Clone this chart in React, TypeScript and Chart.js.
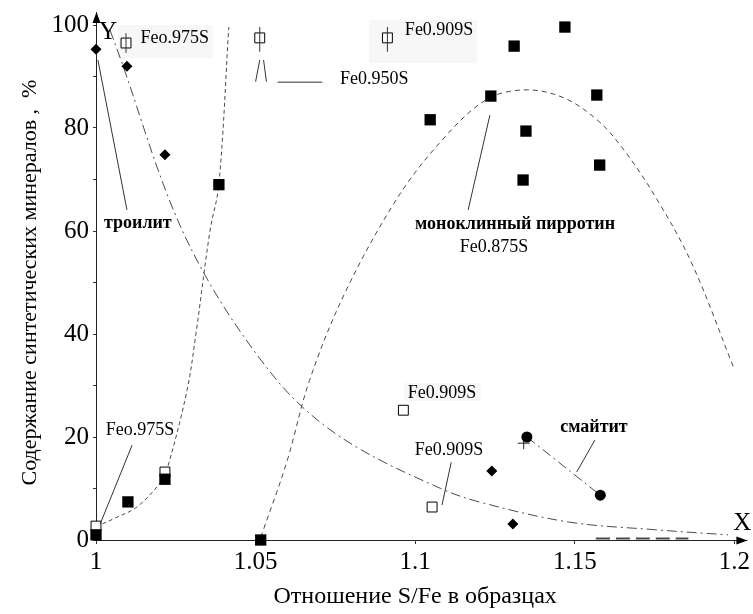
import React, { useEffect, useRef } from 'react';
import { Chart, registerables } from 'chart.js';

Chart.register(...registerables);

// ---- tick labels ----
const yLabelEvery = 20;

// ---- marker series (S/Fe ratio, content %) ----
const pyrrhotiteX = [1.0, 1.01, 1.0216, 1.0385, 1.0516, 1.1047, 1.1237, 1.131, 1.1469, 1.1347, 1.1338, 1.1569, 1.1578];
const pyrrhotiteY = [1, 7.4, 11.8, 69, 0, 81.6, 86.2, 95.9, 99.6, 79.4, 69.9, 86.4, 72.8];

const openX = [1.0, 1.0216, 1.0094, 1.0513, 1.0913, 1.0963, 1.1053];
const openY = [2.7, 13.2, 96.5, 97.5, 97.5, 25.2, 6.4];

const troiliteX = [1.0, 1.0097, 1.0216, 1.124, 1.1306];
const troiliteY = [95.3, 92, 74.8, 13.4, 3.1];

const smythiteX = [1.135, 1.158];
const smythiteY = [20, 8.7];

const crossX = [1.134];
const crossY = [18.8];

// ---- fitted curves ----
const decayX = [1.0044, 1.0085, 1.023, 1.035, 1.051, 1.0647, 1.082, 1.108, 1.12, 1.148, 1.175, 1.198];
const decayY = [99, 92, 66, 50.5, 35.5, 25.8, 17.9, 10, 7.4, 3.5, 2.0, 1.0];

const steepX = [1.0, 1.0065, 1.0128, 1.02, 1.0222, 1.0285, 1.0313, 1.0357, 1.0385, 1.0416];
const steepY = [2.6, 4.4, 6.4, 11, 13.6, 29, 40, 60, 69, 99.6];

const archX = [1.0516, 1.0597, 1.0669, 1.078, 1.094, 1.1075, 1.122, 1.134, 1.146, 1.1566, 1.1647, 1.1753, 1.1866, 1.1997];
const archY = [0.5, 15, 31, 48, 66, 77, 85.4, 87.4, 86, 81.8, 76.3, 66.6, 53.8, 33.6];

const smyLineX = [1.135, 1.158];
const smyLineY = [20, 8.7];

const baseDashX = [1.1566, 1.1856];
const baseDashY = [0.3, 0.3];

// ---- annotations (text, data-space anchor) ----
const noteTexts = ['Feo.975S', 'Fe0.950S', 'Fe0.909S', 'троилит', 'моноклинный пирротин', 'Fe0.875S', 'Fe0.909S', 'Fe0.909S', 'смайтит', 'Feo.975S', 'X', 'Y'];
const noteX = [1.0247, 1.0872, 1.1075, 1.0131, 1.1313, 1.1247, 1.1084, 1.1106, 1.156, 1.0138, 1.2025, 1.0038];
const noteY = [97.5, 89.5, 99, 61.5, 61.2, 56.9, 28.5, 17.5, 21.9, 21.4, 3.2, 98.6];
const noteBold = [false, false, false, true, true, false, false, false, true, false, false, false];
const noteSize = [18, 18, 18, 18, 18, 18, 18, 18, 18, 18, 25, 25];

// leader lines: x1, y1, x2, y2
const leaderX1 = [1.0006, 1.0569, 1.1234, 1.1113, 1.1563, 1.0113, 1.0094, 1.0513, 1.0913, 1.0513, 1.0525];
const leaderY1 = [93.2, 88.9, 82.5, 15.1, 19.4, 18.4, 98.4, 99.6, 99.6, 93.2, 93.2];
const leaderX2 = [1.0097, 1.0709, 1.1166, 1.1084, 1.1506, 1.0013, 1.0094, 1.0513, 1.0913, 1.05, 1.0534];
const leaderY2 = [64.1, 88.9, 64.1, 6.8, 13.2, 3.1, 94.6, 94.8, 94.8, 89, 89];

// light label backgrounds: x1, y1, x2, y2
const boxX1 = [1.0069, 1.0856, 1.0965];
const boxY1 = [100, 101, 30.5];
const boxX2 = [1.0366, 1.1194, 1.1206];
const boxY2 = [93.6, 92.6, 27];

const zip = (xs: number[], ys: number[]) => xs.map((x, i) => ({ x, y: ys[i] }));

const SERIF = "'Liberation Serif', 'Times New Roman', serif";
const LINE = '#4a4a4a';

const overlay = {
  id: 'overlay',
  beforeDatasetsDraw(chart: any) {
    const { ctx, scales } = chart;
    const xs = scales.x, ys = scales.y;
    ctx.save();
    ctx.fillStyle = '#f7f7f7';
    boxX1.forEach((_, i) => {
      const a = xs.getPixelForValue(boxX1[i]);
      const b = ys.getPixelForValue(boxY1[i]);
      const c = xs.getPixelForValue(boxX2[i]);
      const d = ys.getPixelForValue(boxY2[i]);
      ctx.fillRect(a, b, c - a, d - b);
    });
    ctx.restore();
  },
  afterDraw(chart: any) {
    const { ctx, scales, chartArea } = chart;
    const xs = scales.x, ys = scales.y;
    ctx.save();
    // axis extensions with arrows
    ctx.strokeStyle = '#222';
    ctx.fillStyle = '#000';
    ctx.lineWidth = 1;
    const x0 = Math.round(xs.getPixelForValue(1)) + 0.5;
    const y0 = Math.round(ys.getPixelForValue(0)) + 0.5;
    const xr = chartArea.right + 13;
    const yt = chartArea.top - 13;
    ctx.beginPath();
    ctx.moveTo(chartArea.right, y0);
    ctx.lineTo(xr, y0);
    ctx.moveTo(x0, chartArea.top);
    ctx.lineTo(x0, yt);
    ctx.stroke();
    ctx.beginPath();
    ctx.moveTo(xr, y0);
    ctx.lineTo(xr - 11, y0 - 4);
    ctx.lineTo(xr - 11, y0 + 4);
    ctx.closePath();
    ctx.fill();
    ctx.beginPath();
    ctx.moveTo(x0, yt);
    ctx.lineTo(x0 - 4, yt + 11);
    ctx.lineTo(x0 + 4, yt + 11);
    ctx.closePath();
    ctx.fill();

    // leaders
    ctx.strokeStyle = '#333';
    ctx.lineWidth = 1;
    leaderX1.forEach((_, i) => {
      ctx.beginPath();
      ctx.moveTo(xs.getPixelForValue(leaderX1[i]), ys.getPixelForValue(leaderY1[i]));
      ctx.lineTo(xs.getPixelForValue(leaderX2[i]), ys.getPixelForValue(leaderY2[i]));
      ctx.stroke();
    });

    // labels
    ctx.fillStyle = '#000';
    ctx.textAlign = 'center';
    ctx.textBaseline = 'middle';
    noteTexts.forEach((t, i) => {
      ctx.font = `${noteBold[i] ? 'bold ' : ''}${noteSize[i]}px ${SERIF}`;
      ctx.fillText(t, xs.getPixelForValue(noteX[i]), ys.getPixelForValue(noteY[i]));
    });
    ctx.restore();
  },
};

export default function App() {
  const ref = useRef<HTMLCanvasElement | null>(null);
  useEffect(() => {
    document.body.style.margin = '0';
    const canvas = ref.current;
    if (!canvas) return;
    const lineDs = (data: any, dash: number[], width = 1) => ({
      type: 'line' as const,
      data,
      showLine: true,
      borderColor: LINE,
      borderWidth: width,
      borderDash: dash,
      pointRadius: 0,
      fill: false,
      tension: 0.35,
      clip: false,
      order: 10,
    });
    const chart = new Chart(canvas, {
      type: 'scatter',
      data: {
        datasets: [
          lineDs(zip(decayX, decayY), [10, 4, 2, 4]),
          lineDs(zip(steepX, steepY), [4, 3]),
          lineDs(zip(archX, archY), [5, 4]),
          lineDs(zip(smyLineX, smyLineY), [10, 4, 2, 4]),
          lineDs(zip(baseDashX, baseDashY), [14, 6], 2),
          {
            label: 'open',
            data: zip(openX, openY),
            pointStyle: 'rect',
            pointRadius: 7,
            backgroundColor: '#fff',
            borderColor: '#000',
            borderWidth: 1,
            clip: false,
            order: 3,
          },
          {
            label: 'pyrrhotite',
            data: zip(pyrrhotiteX, pyrrhotiteY),
            pointStyle: 'rect',
            pointRadius: 8,
            backgroundColor: '#000',
            borderColor: '#000',
            borderWidth: 0,
            clip: false,
            order: 1,
          },
          {
            label: 'troilite',
            data: zip(troiliteX, troiliteY),
            pointStyle: 'rectRot',
            pointRadius: 5.5,
            backgroundColor: '#000',
            borderColor: '#000',
            borderWidth: 0,
            clip: false,
            order: 1,
          },
          {
            label: 'smythite',
            data: zip(smythiteX, smythiteY),
            pointStyle: 'circle',
            pointRadius: 5.5,
            backgroundColor: '#000',
            borderColor: '#000',
            borderWidth: 0,
            clip: false,
            order: 1,
          },
          {
            label: 'cross',
            data: zip(crossX, crossY),
            pointStyle: 'cross',
            pointRadius: 6,
            backgroundColor: '#000',
            borderColor: '#222',
            borderWidth: 1,
            clip: false,
            order: 2,
          },
        ] as any,
      },
      options: {
        animation: false,
        responsive: false,
        devicePixelRatio: 1,
        layout: { padding: { left: 0, right: 17, top: 25, bottom: 0 } },
        plugins: { legend: { display: false }, tooltip: { enabled: false } },
        scales: {
          x: {
            type: 'linear',
            min: 1,
            max: 1.2,
            afterFit: (s: any) => { s.height = 74; },
            grid: { display: true, drawOnChartArea: false, drawTicks: true, tickLength: 4, color: '#333' },
            border: { display: true, color: '#222' },
            ticks: {
              stepSize: 0.05,
              autoSkip: false,
              maxRotation: 0,
              padding: 3,
              color: '#000',
              font: { family: SERIF, size: 25 },
              callback: (v: any) => Number(v).toFixed(2).replace(/0+$/, '').replace(/\.$/, ''),
            },
            title: {
              display: true,
              text: 'Отношение S/Fe в образцах',
              color: '#000',
              font: { family: SERIF, size: 24 },
              padding: { top: 0, bottom: 3 },
            },
          },
          y: {
            type: 'linear',
            min: 0,
            max: 100,
            afterFit: (s: any) => { s.width = 96; },
            grid: { display: true, drawOnChartArea: false, drawTicks: true, tickLength: 3, color: '#333' },
            border: { display: true, color: '#222' },
            ticks: {
              stepSize: 10,
              autoSkip: false,
              padding: 4,
              color: '#000',
              font: { family: SERIF, size: 25 },
              callback: (v: any) => (Number(v) % yLabelEvery === 0 ? String(v) : ''),
            },
            title: {
              display: true,
              text: 'Содержание синтетических минералов ,  %',
              color: '#000',
              font: { family: SERIF, size: 22 },
              padding: { top: 17, bottom: 0 },
            },
          },
        },
      },
      plugins: [overlay],
    });
    return () => chart.destroy();
  }, []);
  return (
    <div style={{ position: 'absolute', left: 0, top: 0, width: 753, height: 614, background: '#fff' }}>
      <canvas ref={ref} width={753} height={614} style={{ width: 753, height: 614, display: 'block' }} />
    </div>
  );
}
